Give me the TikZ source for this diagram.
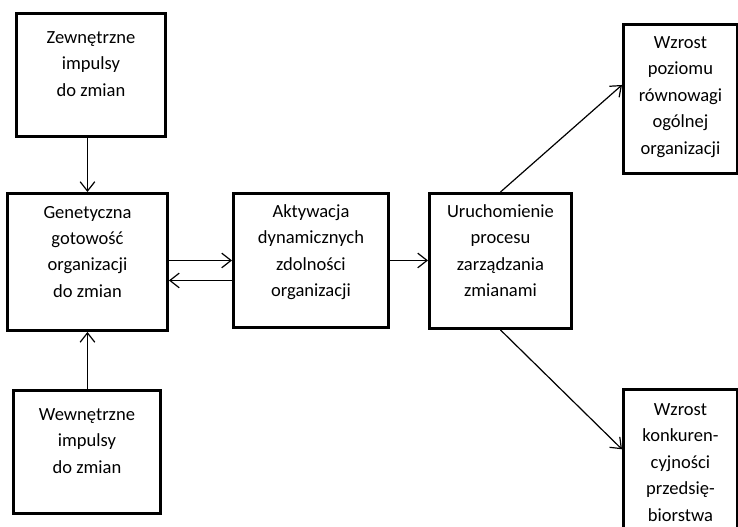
\documentclass[tikz,border=0pt]{standalone}
\usepackage{fontspec}
\setmainfont{Carlito}
\usetikzlibrary{arrows.meta}
\usetikzlibrary{positioning}
\tikzstyle{block}  = [draw, line width=2.2pt, rectangle, inner sep=0pt, anchor=north west, font=\fontsize{13.9}{19.8}\selectfont]
\tikzstyle{to}     = [->, line width=0.9pt]
\newcommand{\boxtext}[4][18.5pt]{\parbox[c][#3][t]{#2}{\centering\rule{0pt}{#1}#4}}

\begin{document}
\begin{tikzpicture}[x=0.75pt, y=-0.75pt, >={Straight Barb[length=7pt,width=11pt]}]
	\useasboundingbox (0,0) rectangle (738,527);
	\node[block]	(zew)	at (15,12)		{\boxtext[22.5pt]{111.75pt}{92.25pt}{Zewnętrzne\\impulsy\\do zmian}};
	\node[block]	(gen)	at (6,192)		{\boxtext{120pt}{102.75pt}{Genetyczna\\gotowość\\organizacji\\do zmian}};
	\node[block]	(wew)	at (12,389)		{\boxtext[22.5pt]{110.25pt}{92.25pt}{Wewnętrzne\\impulsy\\do zmian}};
	\node[block]	(akt)	at (232,192)	{\boxtext[18pt]{116.25pt}{100.5pt}{Aktywacja\\dynamicznych\\zdolności\\organizacji}};
	\node[block]	(uru)	at (428,192)	{\boxtext[18pt]{106.5pt}{101.25pt}{Uruchomienie\\procesu\\zarządzania\\zmianami}};
	\node[block]	(wpo)	at (622,23)		{\boxtext[18pt]{85.5pt}{111.75pt}{Wzrost\\poziomu\\równowagi\\ogólnej\\organizacji}};
	\node[block]	(wko)	at (622,388)	{\boxtext[19.5pt]{85.5pt}{111.75pt}{Wzrost\\konkuren-\\cyjności\\przedsię-\\biorstwa}};
	\coordinate		(back)	at ([yshift=-15pt]akt.west);

	\draw[to] (gen.north |- zew.south) -- (gen.north);
	\draw[to] (gen.south |- wew.north) -- (gen.south);
	\draw[to] (gen.east |- akt.west) -- (akt.west);
	\draw[to] (back) -- (back -| gen.east);
	\draw[to] (akt.east) -- (akt.east -| uru.west);
	\draw[to] (uru.north) -- ([yshift=10.5pt]wpo.west);
	\draw[to] (uru.south) -- ([yshift=11pt]wko.west);
\end{tikzpicture}
\end{document}
